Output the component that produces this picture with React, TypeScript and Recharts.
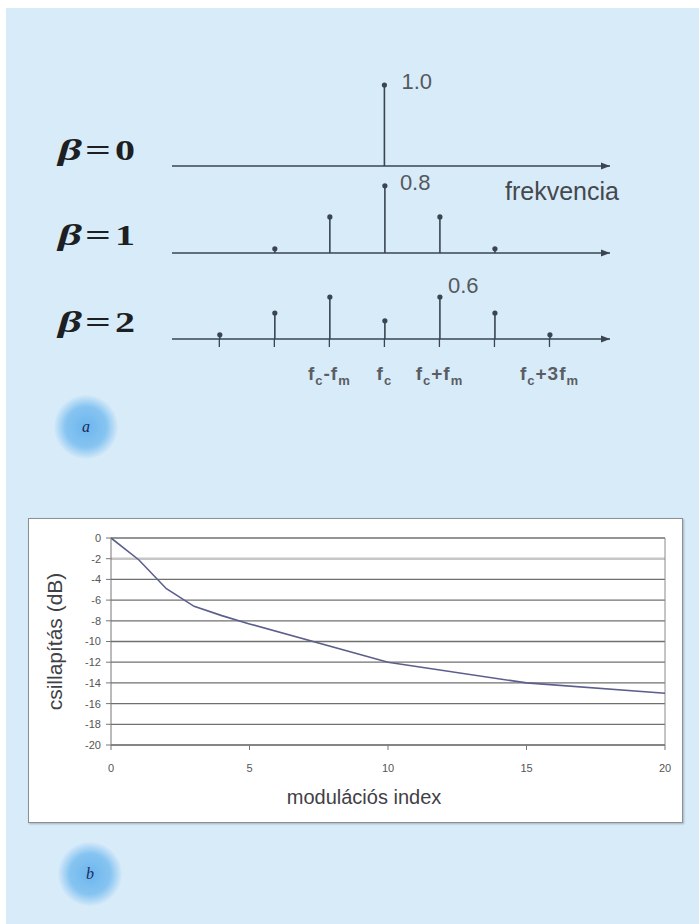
import React from 'react';
import {
  ComposedChart, Bar, XAxis, YAxis, ReferenceLine, ReferenceDot, LabelList,
  LineChart, Line, CartesianGrid, Label,
} from 'recharts';

// spectral lines: offset from carrier in multiples of fm, and relative amplitude
const beta0Offsets = [0];
const beta0Amps = [1.0];
const beta1Offsets = [-2, -1, 0, 1, 2];
const beta1Amps = [0.05, 0.43, 0.8, 0.43, 0.05];
const beta2Offsets = [-3, -2, -1, 0, 1, 2, 3];
const beta2Amps = [0.06, 0.37, 0.6, 0.26, 0.6, 0.37, 0.06];

const freqTicks = [-3, -2, -1, 0, 1, 2, 3];
const freqTickLabels: Record<string, string> = { '-1': 'fc-fm', '0': 'fc', '1': 'fc+fm', '3': 'fc+3fm' };

// carrier attenuation vs modulation index
const modIndex = [0, 1, 2, 3, 4, 5, 10, 15, 20];
const attenuationDb = [0, -2.1, -4.9, -6.6, -7.5, -8.3, -12, -14, -15];
const dbTicks = [0, -2, -4, -6, -8, -10, -12, -14, -16, -18, -20];
const indexTicks = [0, 5, 10, 15, 20];

const INK = '#3a4550';
const FREQ_DOMAIN: [number, number] = [-3.86, 4.1];

function Stem(props: any) {
  const { x, y, width, height } = props;
  const cx = x + width / 2;
  return (
    <g>
      <line x1={cx} x2={cx} y1={y} y2={y + height} stroke={INK} strokeWidth={1.6} />
      <circle cx={cx} cy={y} r={2.6} fill={INK} />
    </g>
  );
}

function Arrow(props: any) {
  const { cx, cy } = props;
  return <polygon points={`${cx - 9},${cy - 3.5} ${cx},${cy} ${cx - 9},${cy + 3.5}`} fill={INK} />;
}

// "fc+fm" style text: letters after an f are set as subscripts
function FreqText({ text }: { text: string }) {
  const parts: React.ReactNode[] = [];
  let prevF = false;
  let sub = false;
  text.split('').forEach((ch, i) => {
    if (prevF && (ch === 'c' || ch === 'm')) {
      parts.push(<tspan key={i} fontSize={13} dy={5}>{ch}</tspan>);
      sub = true;
    } else {
      parts.push(<tspan key={i} dy={sub ? -5 : 0}>{ch}</tspan>);
      sub = false;
    }
    prevF = ch === 'f';
  });
  return <>{parts}</>;
}

function FreqTick(props: any) {
  const { x, y, payload } = props;
  const label = freqTickLabels[String(payload.value)];
  if (!label) return null;
  return (
    <text x={x} y={y + 31} textAnchor="middle" fontFamily="Arial, Liberation Sans, sans-serif"
      fontSize={19} fontWeight="bold" letterSpacing={1} fill="#5a5d62">
      <FreqText text={label} />
    </text>
  );
}

interface RowProps {
  top: number; marginTop: number; plotH: number;
  offsets: number[]; amps: number[];
  tagAt: number; tag: string; tagDx: number; tagDy: number;
  showTicks?: boolean;
}

function SpectrumRow({ top, marginTop, plotH, offsets, amps, tagAt, tag, tagDx, tagDy, showTicks }: RowProps) {
  const data = offsets.map((k, i) => ({ k, amp: amps[i], tag: k === tagAt ? tag : undefined }));
  const axisH = showTicks ? 50 : 0;
  const marginBottom = showTicks ? 0 : 10;
  const renderTag = (p: any) => {
    if (p.value === undefined || p.value === null) return null;
    return (
      <text x={p.x + p.width / 2 + tagDx} y={p.y + tagDy} fontFamily="Arial, Liberation Sans, sans-serif"
        fontSize={22} fill="#55595e">{p.value}</text>
    );
  };
  return (
    <div style={{ position: 'absolute', left: 0, top }}>
      <ComposedChart width={699} height={marginTop + plotH + axisH + marginBottom} data={data}
        margin={{ top: marginTop, right: 89, bottom: marginBottom, left: 172 }}>
        <XAxis type="number" dataKey="k" domain={FREQ_DOMAIN} hide={!showTicks}
          ticks={freqTicks} interval={0} axisLine={false} tickSize={8} height={axisH}
          tickLine={{ stroke: INK, strokeWidth: 1.3 }} tick={<FreqTick />} />
        <YAxis hide domain={[0, 1]} />
        <ReferenceLine y={0} stroke={INK} strokeWidth={1.6} />
        <ReferenceDot x={FREQ_DOMAIN[1]} y={0} r={4} shape={<Arrow />} />
        <Bar dataKey="amp" barSize={4} shape={<Stem />} isAnimationActive={false}>
          <LabelList dataKey="tag" content={renderTag} />
        </Bar>
      </ComposedChart>
    </div>
  );
}

function BetaLabel({ y, n }: { y: number; n: string }) {
  return (
    <g fontFamily="Liberation Serif, Times New Roman, serif" fontWeight="bold" fontSize={30} fill="#1e1f22">
      <text x={58} y={y} fontStyle="italic" textLength={24} lengthAdjust="spacingAndGlyphs">β</text>
      <text x={85} y={y} textLength={26} lengthAdjust="spacingAndGlyphs">=</text>
      <text x={115} y={y} textLength={20} lengthAdjust="spacingAndGlyphs">{n}</text>
    </g>
  );
}

function Badge({ cx, cy, letter }: { cx: number; cy: number; letter: string }) {
  return (
    <div style={{
      position: 'absolute', left: cx - 32, top: cy - 32, width: 64, height: 64, borderRadius: '50%',
      background: 'radial-gradient(circle, #6cb6ee 0%, #86c4f1 45%, rgba(216,235,249,0) 72%)',
      display: 'flex', alignItems: 'center', justifyContent: 'center',
      fontFamily: 'Liberation Serif, serif', fontStyle: 'italic', fontSize: 16, color: '#1d2b5c',
    }}>{letter}</div>
  );
}

export default function App() {
  const curve = modIndex.map((m, i) => ({ m, db: attenuationDb[i] }));
  return (
    <div style={{ position: 'absolute', left: 0, top: 0, width: 699, height: 924, background: '#fff', overflow: 'hidden' }}>
      <div style={{ position: 'absolute', left: 6, top: 8, right: 0, bottom: 0, background: '#d8ebf9' }} />

      <Badge cx={86} cy={427} letter="a" />
      <Badge cx={90} cy={874} letter="b" />

      <svg width={699} height={460} style={{ position: 'absolute', left: 0, top: 0 }}>
        <BetaLabel y={160} n="0" />
        <BetaLabel y={245} n="1" />
        <BetaLabel y={332} n="2" />
        <text x={505} y={200} fontFamily="Arial, Liberation Sans, sans-serif" fontSize={25} fill="#45484c">frekvencia</text>
      </svg>

      <SpectrumRow top={60} marginTop={25} plotH={81} offsets={beta0Offsets} amps={beta0Amps}
        tagAt={0} tag="1.0" tagDx={17} tagDy={4} />
      <SpectrumRow top={150} marginTop={19} plotH={84} offsets={beta1Offsets} amps={beta1Amps}
        tagAt={0} tag="0.8" tagDx={15} tagDy={4} />
      <SpectrumRow top={255} marginTop={14} plotH={70} offsets={beta2Offsets} amps={beta2Amps}
        tagAt={1} tag="0.6" tagDx={8} tagDy={-4} showTicks />

      <div style={{
        position: 'absolute', left: 28, top: 518, width: 655, height: 305, boxSizing: 'border-box',
        background: '#fff', border: '1px solid #8c9096', boxShadow: '1px 1px 2px rgba(0,0,0,0.25)',
      }}>
        <LineChart width={653} height={303} data={curve} margin={{ top: 19, right: 17, bottom: 17, left: 22 }}>
          <CartesianGrid vertical={false} stroke="#707070" strokeWidth={1.3} />
          <ReferenceLine y={-2} stroke="#c6c6c6" strokeWidth={2.4} />
          <ReferenceLine x={20} stroke="#8a8a8a" strokeWidth={1} />
          <XAxis type="number" dataKey="m" domain={[0, 20]} ticks={indexTicks} interval={0} height={60}
            axisLine={{ stroke: '#777' }} tickLine={{ stroke: '#777' }} tickSize={5} tickMargin={14}
            tick={{ fontSize: 11, fill: '#555', fontFamily: 'Arial, Liberation Sans, sans-serif' }}>
            <Label value="modulációs index" position="insideBottom" offset={1} dx={-24}
              style={{ fontSize: 20, fill: '#3f4145', fontFamily: 'Arial, Liberation Sans, sans-serif' }} />
          </XAxis>
          <YAxis type="number" domain={[-20, 0]} ticks={dbTicks} interval={0} width={60}
            axisLine={{ stroke: '#777' }} tickLine={{ stroke: '#777' }} tickSize={5} tickMargin={5}
            tick={{ fontSize: 11, fill: '#555', fontFamily: 'Arial, Liberation Sans, sans-serif' }}>
            <Label value="csillapítás (dB)" angle={-90} position="center" dx={-26}
              style={{ fontSize: 21, fill: '#3f4145', fontFamily: 'Arial, Liberation Sans, sans-serif', textAnchor: 'middle' }} />
          </YAxis>
          <Line type="linear" dataKey="db" stroke="#5b5f8c" strokeWidth={1.6} dot={false} isAnimationActive={false} />
        </LineChart>
      </div>
    </div>
  );
}
